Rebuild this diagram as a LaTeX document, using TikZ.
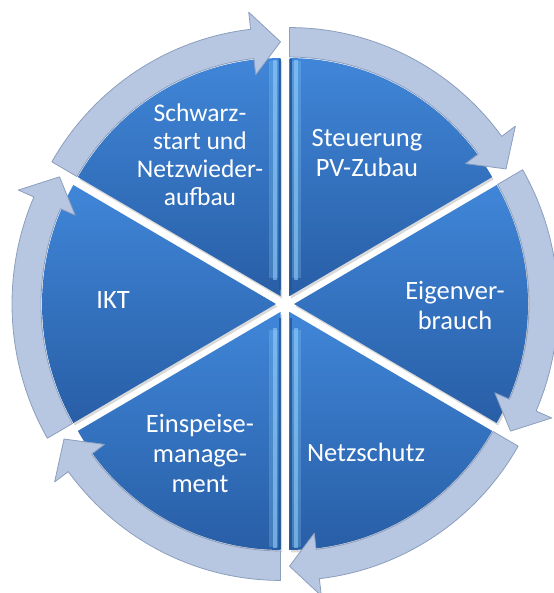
\documentclass[tikz,border=0pt]{standalone}
\usepackage{fontspec}
\setmainfont{Carlito}
\usetikzlibrary{shadows,calc}
\definecolor{ringfill}{RGB}{183,199,226}
\definecolor{ringedge}{RGB}{140,158,190}
\definecolor{blueTop}{RGB}{64,134,216}
\definecolor{blueBot}{RGB}{40,94,166}
\definecolor{blueEdge}{RGB}{36,84,150}
\definecolor{hilite}{RGB}{150,212,252}
\tikzset{
 seglabel/.style={text=white, align=center, font=\fontsize{26.5}{30}\selectfont, inner sep=0pt},
 smalllabel/.style={seglabel, font=\fontsize{25.5}{28}\selectfont},
 ringarrow/.style={fill=ringfill, draw=ringedge, line width=0.8pt, line join=round},
 pieshape/.style={top color=blueTop, bottom color=blueBot, drop shadow={shadow xshift=1.5pt, shadow yshift=-2.5pt, opacity=0.3}},
 hiline/.style={hilite, line width=4pt, opacity=0.55},
 hiwide/.style={hilite, line width=9pt, opacity=0.25},
 edgeline/.style={blueEdge, line width=2pt, opacity=0.8},
}
% #1 bisector angle, #2 highlight mode (0 none, 1 at ccw edge, 2 at cw edge)
\newcommand{\segpiece}[2]{%
 \begin{scope}[shift={(#1:9)}]
  \pgfmathsetmacro{\aone}{#1+30}
  \pgfmathsetmacro{\atwo}{#1-30}
  \pgfmathsetmacro{\hb}{#1-23.5}
  \path[pieshape] (0,0) -- (\atwo:234) arc[start angle=\atwo, end angle=\aone, radius=234] -- cycle;
  \ifnum#2=1
   \draw[edgeline] ($(\aone:6)+(\aone-90:1)$) -- ($(\aone:233)+(\aone-90:1)$);
   \draw[hiwide] ($(\aone:18)+(\aone-90:7)$) -- ($(\aone:231)+(\aone-90:7)$);
   \draw[hiline] ($(\aone:16)+(\aone-90:6)$) -- ($(\aone:232)+(\aone-90:6)$);
  \fi
  \ifnum#2=2
   \draw[edgeline] ($(\atwo:6)+(\atwo+90:1)$) -- ($(\atwo:233)+(\atwo+90:1)$);
   \draw[hiwide] ($(\atwo:18)+(\atwo+90:7)$) -- ($(\atwo:231)+(\atwo+90:7)$);
   \draw[hiline] ($(\atwo:16)+(\atwo+90:6)$) -- ($(\atwo:232)+(\atwo+90:6)$);
  \fi
  \draw[ringarrow] (\aone:235) arc[start angle=\aone, end angle=\hb, radius=235]
    -- (\hb:219) -- (\atwo:250) -- (\hb:281) -- (\hb:264)
    arc[start angle=\hb, end angle=\aone, radius=264] -- cycle;
 \end{scope}}
\begin{document}
\begin{tikzpicture}[x=1pt,y=1pt]
\useasboundingbox (0,0) rectangle (553,593);
\begin{scope}[shift={(285,289)}, yscale=1.017]
 \segpiece{120}{2}
 \segpiece{60}{1}
 \segpiece{0}{0}
 \segpiece{-60}{2}
 \segpiece{-120}{1}
 \segpiece{180}{0}
\end{scope}
\node[smalllabel] (schwarz) at (200,438) {Schwarz-\\start und\\Netzwieder-\\aufbau};
\node[seglabel] (steuer) at (367,440) {Steuerung\\PV-Zubau};
\node[seglabel] (eigen) at (455,288) {Eigenver-\\brauch};
\node[seglabel] (netz) at (366,141) {Netzschutz};
\node[seglabel] (einsp) at (200,140) {Einspeise-\\manage-\\ment};
\node[seglabel] (ikt) at (113,293) {IKT};
\end{tikzpicture}
\end{document}
